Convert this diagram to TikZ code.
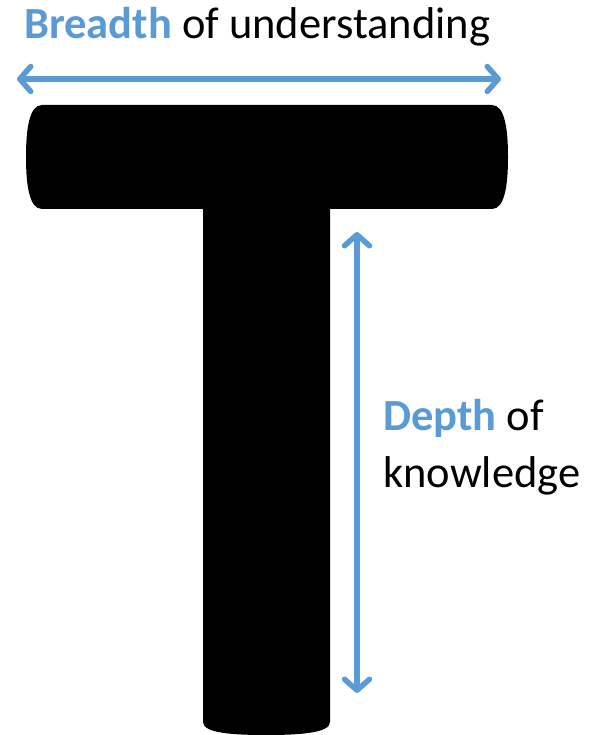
\documentclass[tikz,border=0pt]{standalone}
\usepackage{fontspec}
\setmainfont{Carlito}
\usetikzlibrary{arrows.meta}
\definecolor{skyblue}{RGB}{91,155,213}
\tikzset{
  dimarrow/.style={skyblue,line width=5.5pt,line cap=round,
    {Straight Barb[round,length=11pt,width=25pt]}-{Straight Barb[round,length=11pt,width=25pt]}},
  biglabel/.style={font=\fontsize{44.5}{57}\selectfont,inner sep=0pt}
}
\begin{document}
\begin{tikzpicture}[x=1pt,y=-1pt]
  \useasboundingbox[fill=white] (0,0) rectangle (590,735);
  % the T
  \fill[black] (42,105) -- (492,105)
    .. controls (505,105) and (508,130) .. (508,157)
    .. controls (508,184) and (505,209) .. (492,209)
    -- (330,209) -- (330,722)
    .. controls (330,733) and (300,735) .. (266,735)
    .. controls (232,735) and (203,733) .. (203,722)
    -- (203,209) -- (42,209)
    .. controls (29,209) and (26,184) .. (26,157)
    .. controls (26,130) and (29,105) .. (42,105) -- cycle;
  % arrows
  \coordinate (bl) at (17,79);
  \coordinate (br) at (501,79);
  \coordinate (dt) at (357,232);
  \coordinate (db) at (357,693);
  \draw[dimarrow] (bl) -- (br);
  \draw[dimarrow] (dt) -- (db);
  % labels
  \node[biglabel,anchor=base west] (breadth) at (24,39)
    {\textcolor{skyblue}{\textbf{Breadth}} of understanding};
  \node[biglabel,anchor=north west,align=left] (depth) at (383,399)
    {\textcolor{skyblue}{\textbf{Depth}} of\\knowledge};
\end{tikzpicture}
\end{document}
